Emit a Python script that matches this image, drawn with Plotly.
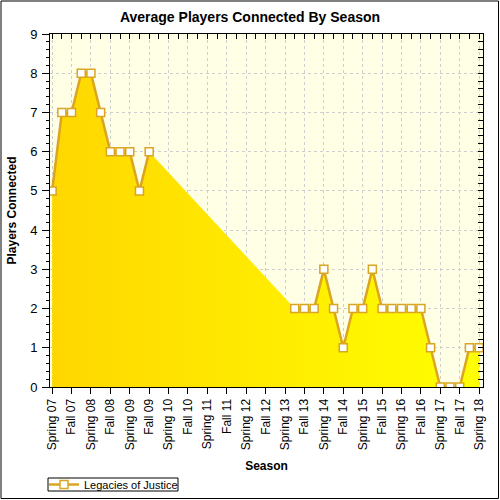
import plotly.graph_objects as go

years = ["07", "08", "09", "10", "11", "12", "13", "14", "15", "16", "17", "18"]
seasons = ["Spring", "Summer", "Fall", "Winter"]
categories = []
for yr in years:
    for s in seasons:
        categories.append(f"{s} {yr}")
categories = categories[: categories.index("Spring 18") + 1]

values = [5, 7, 7, 8, 8, 7, 6, 6, 6, 5, 6,
          None, None, None, None, None, None, None, None, None, None, None, None, None, None,
          2, 2, 2, 3, 2, 1, 2, 2, 3, 2, 2, 2, 2, 2, 1, 0, 0, 0, 1, 1]
series_name = "Legacies of Justice"

idx = list(range(len(categories)))
label_idx = [i for i, c in enumerate(categories) if c.startswith("Spring") or c.startswith("Fall")]
label_txt = [categories[i] for i in label_idx]

fx = [i for i, v in zip(idx, values) if v is not None]
fy = [v for v in values if v is not None]

LINE = "#DAA520"
FONT = "Liberation Sans, Arial, sans-serif"

fig = go.Figure()
fig.add_trace(go.Scatter(
    x=fx, y=fy, mode="none", fill="tozeroy",
    fillgradient=dict(type="horizontal", colorscale=[[0, "#FFD700"], [1, "#FFFF00"]]),
    showlegend=False, hoverinfo="skip"))
fig.add_trace(go.Scatter(
    x=idx, y=values, mode="lines+markers", name=series_name,
    connectgaps=False,
    line=dict(color=LINE, width=2.5),
    marker=dict(symbol="square", size=8, color="white", line=dict(color=LINE, width=1.5))))
fig.add_trace(go.Scatter(x=[0], y=[0], xaxis="x2", yaxis="y2", mode="none",
                         showlegend=False, hoverinfo="skip"))

l, r, t, b = 50, 17, 34, 113
W = H = 500
pw, ph = W - l - r, H - t - b


def px_x(p):
    return (p - l) / pw


def px_y(p):
    return (t + ph - p) / ph


fig.update_layout(
    width=W, height=H,
    margin=dict(l=l, r=r, t=t, b=b, autoexpand=False),
    paper_bgcolor="white",
    plot_bgcolor="#FFFFE6",
    font=dict(family=FONT, size=12, color="black"),
    title=dict(text="<b>Average Players Connected By Season</b>", x=0.5, xref="container",
               xanchor="center", y=1 - 17 / H, yanchor="middle", yref="container",
               font=dict(size=14, color="black")),
    xaxis=dict(range=[-0.22, 44.4], tickvals=label_idx, ticktext=label_txt,
               tickangle=-90, ticks="outside", ticklen=6, tickcolor="black",
               showline=True, linecolor="black", linewidth=1, automargin=False,
               showgrid=True, gridcolor="#CFCFCF", griddash="dot", gridwidth=1,
               zeroline=False, tickfont=dict(size=12),
               title=dict(text="<b>Season</b>", font=dict(size=12), standoff=12)),
    yaxis=dict(range=[0, 9], dtick=1, ticks="outside", ticklen=7, tickcolor="black",
               minor=dict(dtick=0.2, ticks="outside", ticklen=3, tickcolor="black", showgrid=False),
               showline=True, linecolor="black", linewidth=1, automargin=False,
               showgrid=True, gridcolor="#CFCFCF", griddash="dot", gridwidth=1,
               zeroline=False, tickfont=dict(size=13), ticklabelstandoff=2,
               title=dict(text="<b>Players Connected</b>", font=dict(size=12), standoff=10)),
    xaxis2=dict(overlaying="x", side="top", range=[-0.22, 44.4], tickvals=idx,
                ticks="inside", ticklen=5, tickcolor="black", showticklabels=False,
                automargin=False,
                showline=True, linecolor="black", linewidth=1, showgrid=False, zeroline=False),
    yaxis2=dict(overlaying="y", side="right", range=[0, 9], dtick=1, ticks="inside",
                ticklen=5, tickcolor="black", showticklabels=False, automargin=False,
                minor=dict(dtick=0.2, ticks="inside", ticklen=5, tickcolor="black", showgrid=False),
                showline=True, linecolor="black", linewidth=1, showgrid=False, zeroline=False),
    legend=dict(x=px_x(44), y=px_y(484.5), xanchor="left", yanchor="middle",
                borderwidth=0, bgcolor="rgba(0,0,0,0)",
                font=dict(size=11), itemwidth=30),
    shapes=[
        dict(type="rect", xref="paper", yref="paper",
             x0=px_x(1), x1=px_x(498.5), y0=px_y(498.5), y1=px_y(1),
             line=dict(color="black", width=1)),
        dict(type="rect", xref="paper", yref="paper",
             x0=px_x(48), x1=px_x(178), y0=px_y(491), y1=px_y(478),
             line=dict(color="black", width=1)),
    ],
)

fig.write_html("out.html")
